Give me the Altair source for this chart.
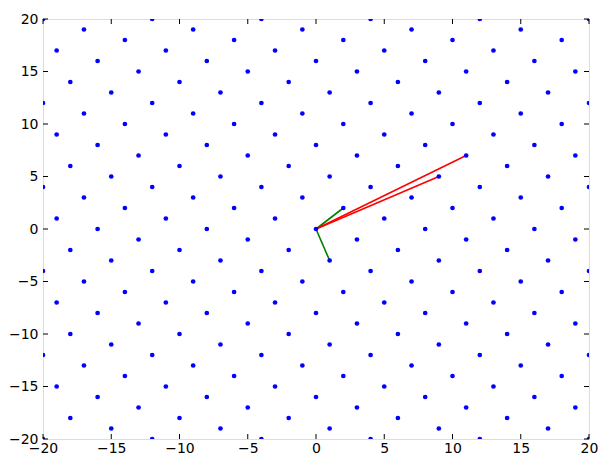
import altair as alt
import pandas as pd

tick_values = [-20, -15, -10, -5, 0, 5, 10, 15, 20]

# lattice points, row by row (y -> list of x)
lattice_rows = {
    20: [-20, -12, -4, 4, 12, 20],
    19: [-17, -9, -1, 7, 15],
    18: [-14, -6, 2, 10, 18],
    17: [-19, -11, -3, 5, 13],
    16: [-16, -8, 0, 8, 16],
    15: [-13, -5, 3, 11, 19],
    14: [-18, -10, -2, 6, 14],
    13: [-15, -7, 1, 9, 17],
    12: [-20, -12, -4, 4, 12, 20],
    11: [-17, -9, -1, 7, 15],
    10: [-14, -6, 2, 10, 18],
    9: [-19, -11, -3, 5, 13],
    8: [-16, -8, 0, 8, 16],
    7: [-13, -5, 3, 11, 19],
    6: [-18, -10, -2, 6, 14],
    5: [-15, -7, 1, 9, 17],
    4: [-20, -12, -4, 4, 12, 20],
    3: [-17, -9, -1, 7, 15],
    2: [-14, -6, 2, 10, 18],
    1: [-19, -11, -3, 5, 13],
    0: [-16, -8, 0, 8, 16],
    -1: [-13, -5, 3, 11, 19],
    -2: [-18, -10, -2, 6, 14],
    -3: [-15, -7, 1, 9, 17],
    -4: [-20, -12, -4, 4, 12, 20],
    -5: [-17, -9, -1, 7, 15],
    -6: [-14, -6, 2, 10, 18],
    -7: [-19, -11, -3, 5, 13],
    -8: [-16, -8, 0, 8, 16],
    -9: [-13, -5, 3, 11, 19],
    -10: [-18, -10, -2, 6, 14],
    -11: [-15, -7, 1, 9, 17],
    -12: [-20, -12, -4, 4, 12, 20],
    -13: [-17, -9, -1, 7, 15],
    -14: [-14, -6, 2, 10, 18],
    -15: [-19, -11, -3, 5, 13],
    -16: [-16, -8, 0, 8, 16],
    -17: [-13, -5, 3, 11, 19],
    -18: [-18, -10, -2, 6, 14],
    -19: [-15, -7, 1, 9, 17],
    -20: [-20, -12, -4, 4, 12, 20],
}

# vectors from origin
vec_x_end = [2, 1, 11, 9]
vec_y_end = [2, -3, 7, 5]
vec_colors = ["#008000", "#008000", "#ff0000", "#ff0000"]

pts_df = pd.DataFrame(
    [{"x": x, "y": y} for y, xs in lattice_rows.items() for x in xs]
)
vec_df = pd.DataFrame({
    "x0": [0] * len(vec_x_end), "y0": [0] * len(vec_y_end),
    "x1": vec_x_end, "y1": vec_y_end, "c": vec_colors,
})
tick_df = pd.DataFrame({"t": tick_values})

W, H = 546, 420
TL = 5

xscale = alt.Scale(domain=[-20, 20], nice=False, zero=False)
yscale = alt.Scale(domain=[-20, 20], nice=False, zero=False)

def mk_axis(pad):
    return alt.Axis(values=tick_values, title=None, grid=False, ticks=False,
                    domain=False, labelFontSize=14, labelFont="DejaVu Sans",
                    labelColor="black", labelPadding=pad, labelOverlap=False,
                    labelFlush=False, labelBound=False)

XA = lambda: mk_axis(2)
YA = lambda: mk_axis(5)

vec = alt.Chart(vec_df).mark_rule(strokeWidth=1.6).encode(
    x=alt.X("x0:Q", scale=xscale, axis=XA()),
    y=alt.Y("y0:Q", scale=yscale, axis=YA()),
    x2="x1:Q", y2="y1:Q",
    color=alt.Color("c:N", scale=None),
)

pts = alt.Chart(pts_df).mark_circle(size=22, color="#0000ff", opacity=1, clip=True).encode(
    x=alt.X("x:Q", scale=xscale, axis=XA()),
    y=alt.Y("y:Q", scale=yscale, axis=YA()),
)

tb = alt.Chart(tick_df).mark_rule(color="black", strokeWidth=1).encode(
    x=alt.X("t:Q", scale=xscale, axis=XA()), y=alt.value(H), y2=alt.value(H - TL))
tt = alt.Chart(tick_df).mark_rule(color="black", strokeWidth=1).encode(
    x=alt.X("t:Q", scale=xscale, axis=XA()), y=alt.value(0), y2=alt.value(TL))
tl = alt.Chart(tick_df).mark_rule(color="black", strokeWidth=1).encode(
    y=alt.Y("t:Q", scale=yscale, axis=YA()), x=alt.value(0), x2=alt.value(TL))
tr = alt.Chart(tick_df).mark_rule(color="black", strokeWidth=1).encode(
    y=alt.Y("t:Q", scale=yscale, axis=YA()), x=alt.value(W), x2=alt.value(W - TL))

chart = alt.layer(vec, pts, tb, tt, tl, tr).properties(
    width=W, height=H,
    autosize=alt.AutoSizeParams(type="none"),
    padding={"left": 35, "top": 11, "right": 9, "bottom": 17},
).configure_view(stroke="black", strokeWidth=1).configure(background="white")

chart.save("out.html", embed_options={"renderer": "svg", "actions": False})
